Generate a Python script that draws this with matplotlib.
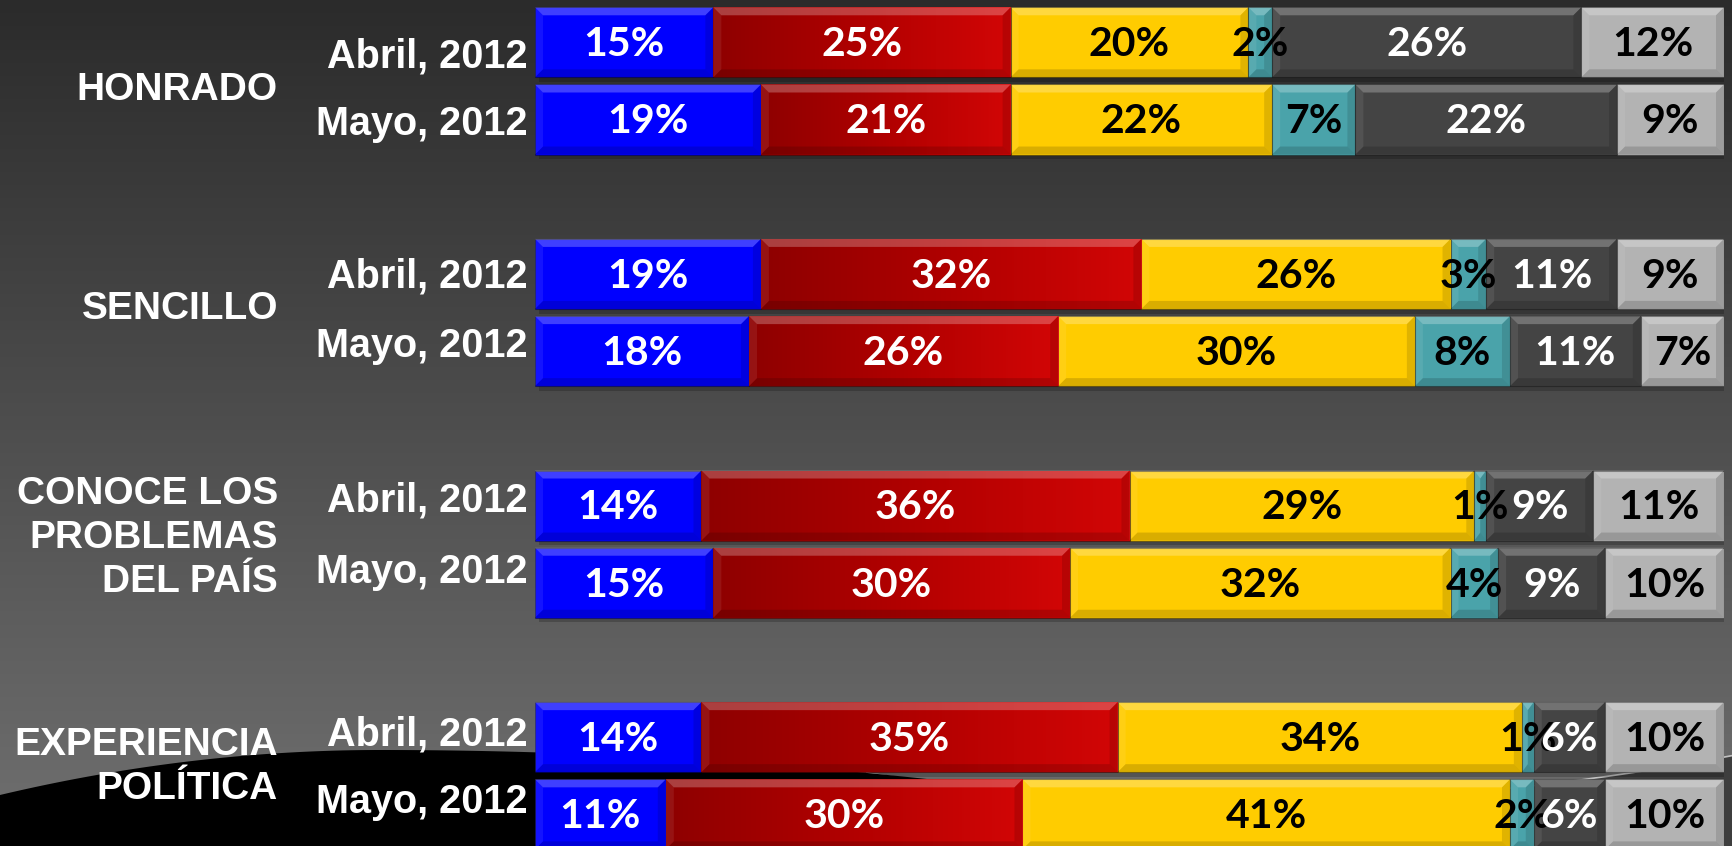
import matplotlib.pyplot as plt
import numpy as np
from matplotlib.colors import LinearSegmentedColormap
from matplotlib.patches import Polygon, Rectangle

# ---- data ----
groups = ["HONRADO", "SENCILLO", "CONOCE LOS\nPROBLEMAS\nDEL PAÍS", "EXPERIENCIA\nPOLÍTICA"]
periods = ["Abril, 2012", "Mayo, 2012"]
# rows: HONRADO Abr, May, SENCILLO Abr, May, CONOCE Abr, May, EXPERIENCIA Abr, May
blue = [15, 19, 19, 18, 14, 15, 14, 11]
red = [25, 21, 32, 26, 36, 30, 35, 30]
yellow = [20, 22, 26, 30, 29, 32, 34, 41]
teal = [2, 7, 3, 8, 1, 4, 1, 2]
dark = [26, 22, 11, 11, 9, 9, 6, 6]
light = [12, 9, 9, 7, 11, 10, 10, 10]

series = [blue, red, yellow, teal, dark, light]
colors = ["#0000ff", "#c00000", "#ffcc00", "#4aa3aa", "#444444", "#b3b3b3"]
txt_colors = ["white", "white", "black", "black", "white", "black"]

rows = np.array([0, 1, 3, 4, 6, 7, 9, 10])
H = 0.907

W, HH = 1733, 846
fig = plt.figure(figsize=(W / 100, HH / 100), dpi=100)

# - - background - -
bg = fig.add_axes([0, 0, 1, 1])
bg.set_xlim(0, W)
bg.set_ylim(HH, 0)
bg.axis("off")
bg_cmap = LinearSegmentedColormap.from_list("bg", ["#2b2b2b", "#707070"])
bg.imshow(np.linspace(0, 1, 256).reshape(-1, 1), extent=(0, W, HH, 0),
          aspect="auto", cmap=bg_cmap, zorder=0)
bg.set_xlim(0, W)
bg.set_ylim(HH, 0)

# dark swoosh on the right with light edge
xs = np.linspace(867, W, 200)
ys = 801.7 - 1.97e-4 * (xs - 1248.5) ** 2
bg.add_patch(Polygon(np.column_stack([np.r_[xs, W, 867], np.r_[ys, HH, HH]]),
                     closed=True, color="#3e3e3e", lw=0, zorder=1))
bg.plot(xs, ys, color="#dddddd", lw=1.2, alpha=0.8, zorder=1.5)

# black swoosh bottom-left
xl = np.linspace(0, 1400, 300)
yl = np.where(xl < 380, 750 + 45 * ((380 - xl) / 380) ** 2,
              750 + 23 * ((xl - 380) / 487) ** 2)
bg.add_patch(Polygon(np.column_stack([np.r_[xl, 1400, 0], np.r_[yl, HH, HH]]),
                     closed=True, color="black", lw=0, zorder=2))

# - - labels - -
lab_font = dict(family=["Liberation Sans", "DejaVu Sans"], fontweight="bold",
                color="white", zorder=5)
group_y = [90, 309, 538, 767]
for name, gy in zip(groups, group_y):
    bg.text(278, gy, name, ha="right", va="center", ma="right", fontsize=28,
            linespacing=1.3, **lab_font)
period_y = [(57, 124), (276, 346), (500, 572), (735, 802)]
for ya, ym in period_y:
    bg.text(528, ya, periods[0], ha="right", va="center", fontsize=28.5, **lab_font)
    bg.text(528, ym, periods[1], ha="right", va="center", fontsize=28.5, **lab_font)

# - - bars - -
ax = fig.add_axes([535 / W, 0, 1189 / W, 1])
ax.patch.set_alpha(0)
ax.axis("off")

bx = 8 * 100 / 1189
by = 8 / 77.2
red_cmap = LinearSegmentedColormap.from_list("red", ["#8e0000", "#b00000", "#d20606"])

left = np.zeros(len(rows))
for k, vals in enumerate(series):
    vals = np.array(vals, dtype=float)
    # shadow
    for x0, w, yc in zip(left, vals, rows):
        ax.add_patch(Rectangle((x0 + 0.3, yc - H / 2 + 0.06), w, H,
                               color="black", alpha=0.2, lw=0, zorder=1))
    bars = ax.barh(rows, vals, left=left, height=H, color=colors[k],
                   edgecolor=(0, 0, 0, 0.35), linewidth=0.8, zorder=2)
    for bar, v in zip(bars, vals):
        x0, w = bar.get_x(), bar.get_width()
        y0, y1 = bar.get_y(), bar.get_y() + bar.get_height()
        x1 = x0 + w
        if k == 1:
            im = ax.imshow(np.linspace(0, 1, 128).reshape(1, -1),
                           extent=(x0, x1, y1, y0), aspect="auto",
                           cmap=red_cmap, zorder=2.1)
            im.set_clip_path(bar)
        b = min(bx, w / 2)
        top = [(x0, y0), (x1, y0), (x1 - b, y0 + by), (x0 + b, y0 + by)]
        bot = [(x0, y1), (x1, y1), (x1 - b, y1 - by), (x0 + b, y1 - by)]
        lft = [(x0, y0), (x0 + b, y0 + by), (x0 + b, y1 - by), (x0, y1)]
        rgt = [(x1, y0), (x1 - b, y0 + by), (x1 - b, y1 - by), (x1, y1)]
        ax.add_patch(Polygon(top, closed=True, color="white", alpha=0.25, lw=0, zorder=3))
        ax.add_patch(Polygon(bot, closed=True, color="black", alpha=0.15, lw=0, zorder=3))
        ax.add_patch(Polygon(lft, closed=True, color="white", alpha=0.08, lw=0, zorder=3))
        ax.add_patch(Polygon(rgt, closed=True, color="black", alpha=0.12, lw=0, zorder=3))
        ax.text(x0 + w / 2, (y0 + y1) / 2 + 0.03, f"{int(v)}%", ha="center", va="center",
                fontsize=29.5, fontweight="bold", family=["Lato", "DejaVu Sans"],
                color=txt_colors[k], zorder=6)
    left = left + vals

ax.set_xlim(0, 100)
ax.set_ylim(10.41, -0.548)

fig.savefig("out.png", dpi=100)
